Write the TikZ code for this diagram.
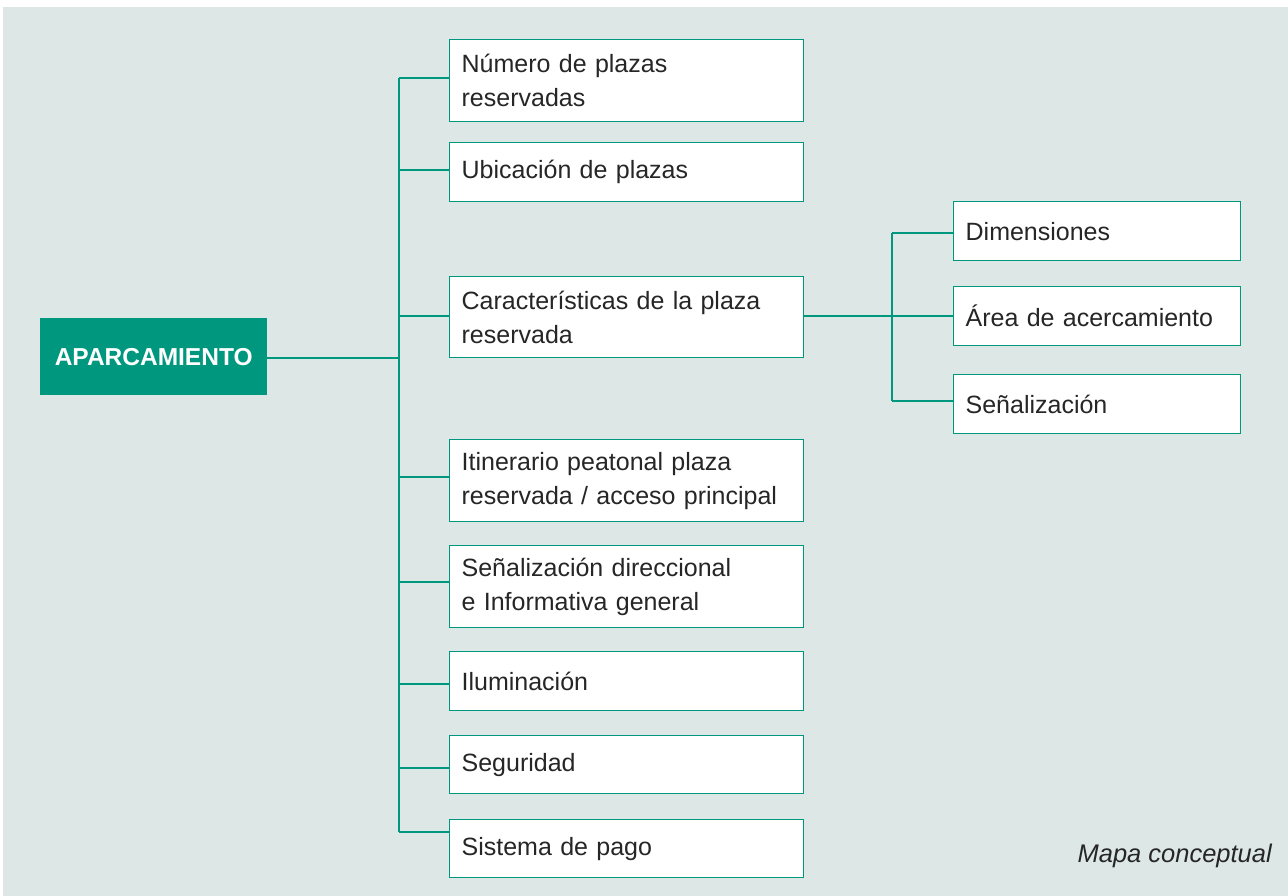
\documentclass[tikz,border=0pt]{standalone}
\usepackage{fontspec}
\setmainfont{Liberation Sans}
\definecolor{teal1}{HTML}{00977F}
\definecolor{bgc}{HTML}{DDE8E6}
\definecolor{txt}{HTML}{262626}
\begin{document}
\begin{tikzpicture}[x=1pt,y=-1pt,
  box/.style={draw=teal1,line width=1.3pt,fill=white,anchor=north west,inner xsep=12pt,inner ysep=0pt,
    align=left,text=txt,font=\fontsize{25}{34}\selectfont},
  conn/.style={draw=teal1,line width=1.6pt},
  trunk/.style={draw=teal1,line width=2.2pt}]
\useasboundingbox (0,0) rectangle (1288,896);
\fill[white] (0,0) rectangle (1288,896);
\fill[bgc] (3,7) rectangle (1288,896);
% root
\node[fill=teal1,text=white,anchor=north west,minimum width=227pt,minimum height=77pt,inner sep=0pt,
  font=\fontsize{24.5}{28}\selectfont\bfseries] (root) at (40,318) {APARCAMIENTO};
% left column boxes
\node[box,minimum width=354pt,minimum height=82pt,text width=330pt] (b1) at (449,39) {Número de plazas\\reservadas};
\node[box,minimum width=354pt,minimum height=59pt,text width=330pt] (b2) at (449,142) {Ubicación de plazas};
\node[box,minimum width=354pt,minimum height=81pt,text width=330pt] (b3) at (449,276) {Características de la plaza\\reservada};
\node[box,minimum width=354pt,minimum height=82pt,text width=330pt] (b4) at (449,439) {Itinerario peatonal plaza\\reservada / acceso principal};
\node[box,minimum width=354pt,minimum height=82pt,text width=330pt] (b5) at (449,545) {Señalización direccional\\e Informativa general};
\node[box,minimum width=354pt,minimum height=59pt,text width=330pt] (b6) at (449,651) {Iluminación};
\node[box,minimum width=354pt,minimum height=58pt,text width=330pt] (b7) at (449,735) {Seguridad};
\node[box,minimum width=354pt,minimum height=58pt,text width=330pt] (b8) at (449,819) {Sistema de pago};
% right column boxes
\node[box,minimum width=287pt,minimum height=59pt,text width=263pt] (c1) at (953,201) {Dimensiones};
\node[box,minimum width=287pt,minimum height=59pt,text width=263pt] (c2) at (953,286) {Área de acercamiento};
\node[box,minimum width=287pt,minimum height=59pt,text width=263pt] (c3) at (953,374) {Señalización};
% trunk coordinates
\coordinate (t1) at (399,78);
\coordinate (t2) at (399,170);
\coordinate (t3) at (399,316);
\coordinate (t4) at (399,477);
\coordinate (t5) at (399,582);
\coordinate (t6) at (399,684);
\coordinate (t7) at (399,768);
\coordinate (t8) at (399,832);
\coordinate (tr) at (399,358);
\coordinate (s1) at (892,233);
\coordinate (s2) at (892,316);
\coordinate (s3) at (892,401);
% connectors
\draw[conn] (root.east |- tr) -- (tr);
\foreach \i in {1,...,8} {\draw[conn] (t\i) -- (t\i -| b\i.west);}
\draw[trunk] (t1) -- (t8);
\draw[conn] (b3.east |- s2) -- (s2);
\foreach \i in {1,2,3} {\draw[conn] (s\i) -- (s\i -| c\i.west);}
\draw[trunk] (s1) -- (s3);
% caption
\node[anchor=base east,inner sep=0pt,text=txt,font=\fontsize{25.5}{28}\selectfont\itshape] (cap) at (1272,862) {Mapa conceptual};
\end{tikzpicture}
\end{document}
